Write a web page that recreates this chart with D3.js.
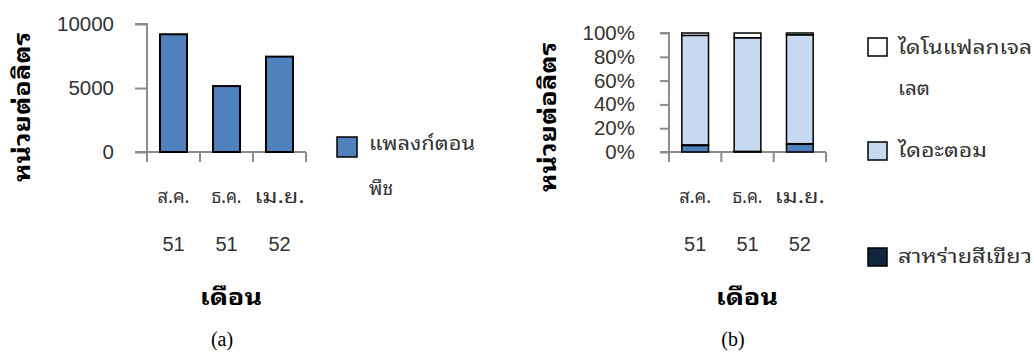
<!DOCTYPE html>
<html><head><meta charset="utf-8">
<script src="https://cdn.jsdelivr.net/npm/d3@7"></script>
<style>
body{margin:0;background:#fff;}
svg{display:block;}
text{font-family:"Noto Sans Thai Looped","Loma","Waree","Garuda","Tahoma","Noto Sans Thai","Liberation Sans",Arial,sans-serif;}
</style></head>
<body><svg id="c" width="1034" height="355"></svg>
<script>
const months = ["ส.ค.", "ธ.ค.", "เม.ย."];
const years = ["51", "51", "52"];
const phytoValues = [9200, 5150, 7450];
const yTicksA = [0, 5000, 10000];
const seriesA = "แพลงก์ตอนพืช";

const seriesB = ["สาหร่ายสีเขียวแกมน้ำเงิน", "สาหร่ายสีเขียว", "ไดอะตอม", "ไดโนแฟลกเจลเลต"];
const blueGreenPct = [5.5, 0.3, 6.5];
const greenPct = [0.5, 0.2, 0.5];
const diatomPct = [92.0, 95.5, 91.5];
const dinoPct = [2.0, 4.0, 1.5];
const yTicksB = [0, 0.2, 0.4, 0.6, 0.8, 1.0];

const svg = d3.select("#c");
const axisColor = "#8c8c8c";
const textColor = "#333";
const barBlue = "#4f81bd";
const colorsB = ["#4f81bd", "#10253f", "#c6d9f1", "#ffffff"];
const monthWidths = [32, 30, 50];

function thai(sel, len) {
  return sel.attr("textLength", len).attr("lengthAdjust", "spacingAndGlyphs");
}

function drawAxes(g, x, y, ticks, fmt, tickLen, pad, x0, x1) {
  const ya = g.append("g").attr("transform", `translate(${x0},0)`)
    .call(d3.axisLeft(y).tickValues(ticks).tickFormat(fmt).tickSize(tickLen).tickPadding(pad));
  ya.select(".domain").attr("stroke", axisColor).attr("stroke-width", 2).attr("d", `M-${tickLen},${y.range()[0]}H0V${y.range()[1]}H-${tickLen}`);
  ya.selectAll(".tick line").attr("stroke", axisColor).attr("stroke-width", 2);
  ya.selectAll(".tick text").attr("fill", textColor).style("font-family", "'Liberation Sans',Arial,sans-serif").style("font-size", "20.5px");
  const xa = g.append("g");
  xa.append("line").attr("x1", x0).attr("x2", x1).attr("y1", y(0)).attr("y2", y(0))
    .attr("stroke", axisColor).attr("stroke-width", 2);
  const bounds = x.domain().map(d => x(d) - x.step() * x.paddingOuter()).concat([x1]);
  xa.selectAll("line.bt").data(bounds).join("line").attr("class", "bt")
    .attr("x1", d => d).attr("x2", d => d).attr("y1", y(0)).attr("y2", y(0) + 10)
    .attr("stroke", axisColor).attr("stroke-width", 2);
  x.domain().forEach((d, i) => {
    const cx = x(d) + x.bandwidth() / 2;
    thai(g.append("text").attr("x", cx).attr("y", 203).attr("text-anchor", "middle")
      .attr("fill", textColor).style("font-size", "20px").text(months[i]), monthWidths[i]);
    g.append("text").attr("x", cx).attr("y", 251).attr("text-anchor", "middle")
      .attr("fill", textColor).style("font-family", "'Liberation Sans',Arial,sans-serif").style("font-size", "20px").text(years[i]);
  });
}

// ---------- Chart (a)
{
  const g = svg.append("g");
  const x = d3.scaleBand().domain(d3.range(3)).range([147, 306]).paddingInner(0.49).paddingOuter(0.245);
  const y = d3.scaleLinear().domain([0, 10000]).range([152, 24]);
  drawAxes(g, x, y, yTicksA, d3.format("d"), 12, 21, 147, 306);
  g.selectAll("rect.bar").data(phytoValues).join("rect").attr("class", "bar")
    .attr("x", (d, i) => x(i)).attr("width", x.bandwidth())
    .attr("y", d => y(d)).attr("height", d => y(0) - y(d))
    .attr("fill", barBlue).attr("stroke", "#000").attr("stroke-width", 2);
  thai(g.append("text").attr("transform", "translate(30,107) rotate(-90)").attr("text-anchor", "middle")
    .attr("fill", "#000").style("font-weight", "bold").style("font-size", "22px").text("หน่วยต่อลิตร"), 150);
  thai(g.append("text").attr("x", 231).attr("y", 305).attr("text-anchor", "middle")
    .attr("fill", "#000").style("font-weight", "bold").style("font-size", "23px").text("เดือน"), 62);
  g.append("text").attr("x", 222).attr("y", 346).attr("text-anchor", "middle")
    .attr("fill", "#000").style("font-family", "'Liberation Serif','Times New Roman',serif").style("font-size", "20px").text("(a)");
  g.append("rect").attr("x", 337).attr("y", 137).attr("width", 20).attr("height", 20)
    .attr("fill", barBlue).attr("stroke", "#000").attr("stroke-width", 1.5);
  thai(g.append("text").attr("x", 369).attr("y", 150).attr("fill", textColor).style("font-size", "20px").text("แพลงก์ตอน"), 106);
  thai(g.append("text").attr("x", 369).attr("y", 195).attr("fill", textColor).style("font-size", "20px").text("พืช"), 24);
}

// ---------- Chart (b)
{
  const g = svg.append("g");
  const x = d3.scaleBand().domain(d3.range(3)).range([669, 826]).paddingInner(0.49).paddingOuter(0.245);
  const y = d3.scaleLinear().domain([0, 1]).range([152, 33]);
  drawAxes(g, x, y, yTicksB, d3.format(".0%"), 9, 25, 669, 826);
  const rows = d3.range(3).map(i => ({
    [seriesB[0]]: blueGreenPct[i], [seriesB[1]]: greenPct[i],
    [seriesB[2]]: diatomPct[i], [seriesB[3]]: dinoPct[i]
  }));
  const stacked = d3.stack().keys(seriesB).offset(d3.stackOffsetExpand)(rows);
  stacked.forEach((s, k) => {
    g.selectAll(`rect.s${k}`).data(s).join("rect").attr("class", `s${k}`)
      .attr("x", (d, i) => x(i)).attr("width", x.bandwidth())
      .attr("y", d => y(d[1])).attr("height", d => y(d[0]) - y(d[1]))
      .attr("fill", colorsB[k]).attr("stroke", "#000").attr("stroke-width", 1.5);
  });
  thai(g.append("text").attr("transform", "translate(556,117) rotate(-90)").attr("text-anchor", "middle")
    .attr("fill", "#000").style("font-weight", "bold").style("font-size", "22px").text("หน่วยต่อลิตร"), 150);
  thai(g.append("text").attr("x", 747).attr("y", 305).attr("text-anchor", "middle")
    .attr("fill", "#000").style("font-weight", "bold").style("font-size", "23px").text("เดือน"), 62);
  g.append("text").attr("x", 733).attr("y", 346).attr("text-anchor", "middle")
    .attr("fill", "#000").style("font-family", "'Liberation Serif','Times New Roman',serif").style("font-size", "20px").text("(b)");
  // legend: top series first; only the three entries visible in the reference
  const legendOrder = [3, 2, 1];
  const legendY = [47, 151, 257];
  legendOrder.forEach((k, j) => {
    g.append("rect").attr("x", 868).attr("y", legendY[j] - 9).attr("width", 19).attr("height", 18)
      .attr("fill", colorsB[k]).attr("stroke", "#000").attr("stroke-width", 1.5);
    if (k === 3) {
      thai(g.append("text").attr("x", 898).attr("y", 54).attr("fill", textColor).style("font-size", "20px").text("ไดโนแฟลกเจล"), 134);
      thai(g.append("text").attr("x", 898).attr("y", 95).attr("fill", textColor).style("font-size", "20px").text("เลต"), 32);
    } else if (k === 2) {
      thai(g.append("text").attr("x", 898).attr("y", legendY[j] + 6).attr("fill", textColor).style("font-size", "20px").text(seriesB[k]), 89);
    } else {
      thai(g.append("text").attr("x", 898).attr("y", legendY[j] + 6).attr("fill", textColor).style("font-size", "20px").text(seriesB[k]), 134);
    }
  });
}
</script></body></html>
